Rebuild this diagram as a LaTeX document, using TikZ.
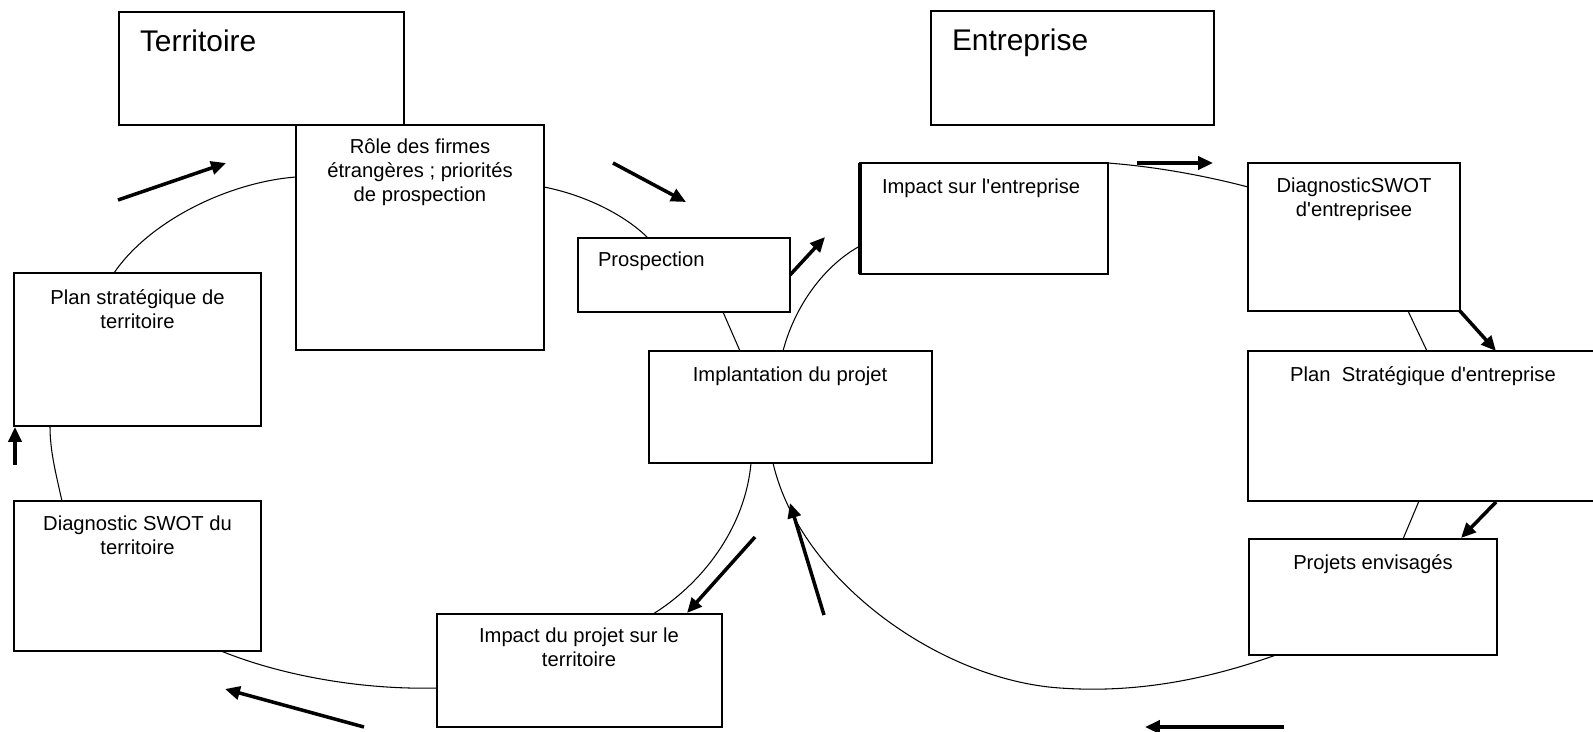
\documentclass[tikz,border=0pt]{standalone}
\usepackage{fontspec}
\setmainfont{Liberation Sans}
\usetikzlibrary{calc,arrows.meta}
\begin{document}
\begin{tikzpicture}[x=0.02cm,y=-0.02cm,
 box/.style={draw,line width=1.1pt,rectangle,inner sep=0pt,outer sep=0pt,anchor=north west},
 txt/.style={inner sep=0pt,outer sep=0pt,font=\fontsize{11.5}{13.6}\selectfont,align=center,anchor=north},
 ctxt/.style={inner sep=0pt,outer sep=0pt,font=\fontsize{11.5}{13.6}\selectfont,anchor=base},
 ltxt/.style={inner sep=0pt,outer sep=0pt,font=\fontsize{11.5}{13.6}\selectfont,anchor=base west},
 ttl/.style={inner sep=0pt,outer sep=0pt,font=\fontsize{17}{20}\selectfont,anchor=base west},
 link/.style={line width=0.6pt},
 flow/.style={line width=2pt,-{Triangle[length=8.5pt,width=7.5pt]}}]
\useasboundingbox (0,0) rectangle (1593,731);

% boxes
\node[box,minimum width=5.70cm,minimum height=2.26cm] (b1) at (119,12) {};
\node[box,minimum width=5.66cm,minimum height=2.28cm] (b2) at (931,11) {};
\node[box,minimum width=4.96cm,minimum height=4.50cm] (b3) at (296,125) {};
\node[box,minimum width=4.94cm,minimum height=3.06cm] (b4) at (14,273) {};
\node[box,minimum width=4.94cm,minimum height=3.00cm] (b5) at (14,501) {};
\node[box,minimum width=5.70cm,minimum height=2.26cm] (b6) at (437,614) {};
\node[box,minimum width=4.24cm,minimum height=1.48cm] (b7) at (578,238) {};
\node[box,minimum width=5.66cm,minimum height=2.24cm] (b8) at (649,351) {};
\node[box,minimum width=4.96cm,minimum height=2.22cm] (b9) at (860,163) {};
\node[box,minimum width=4.24cm,minimum height=2.96cm] (b10) at (1248,163) {};
\node[box,minimum width=7.00cm,minimum height=3.00cm] (b11) at (1248,351) {};
\node[box,minimum width=4.96cm,minimum height=2.32cm] (b12) at (1249,539) {};
\draw[line width=2pt] (b9.north west) -- (b9.south west);

% texts
\node[ttl] (t1) at (140,51) {Territoire};
\node[ttl] (t2) at (952,50) {Entreprise};
\node[txt] (t3) at (420,137) {\strut R\^ole des firmes\\étrangères ; priorités\\de prospection};
\node[txt] (t4) at (137.5,288) {\strut Plan stratégique de\\territoire};
\node[txt] (t5) at (137.5,514) {\strut Diagnostic SWOT du\\territoire};
\node[txt] (t6) at (579,626) {\strut Impact du projet sur le\\territoire};
\node[ltxt] (t7) at (598,266) {Prospection};
\node[ctxt] (t8) at (790,381) {Implantation du projet};
\node[ltxt] (t9) at (882,193) {Impact sur l\textquotesingle entreprise};
\node[txt] (t10) at (1354,176) {\strut DiagnosticSWOT\\d\textquotesingle entreprisee};
\node[ctxt] (t11) at (1423,381) {Plan\ \ Stratégique d\textquotesingle entreprise};
\node[ctxt] (t12) at (1373,569) {Projets envisagés};

% thin links forming the two cycles
\draw[link] ($(b4.north west)+(100,0)$) .. controls (150,220) and (230,182) .. ($(b3.north west)+(0,52)$);
\draw[link] ($(b3.north east)+(0,62)$) .. controls (585,195) and (625,215) .. ($(b7.north west)+(70,0)$);
\draw[link] ($(b7.south west)+(145,0)$) -- ($(b8.north west)+(91,0)$);
\draw[link] ($(b9.north west)+(0,83)$) .. controls (825,265) and (795,305) .. ($(b8.north west)+(134,0)$);
\draw[link] (b9.north east) .. controls (1160,167) and (1210,177) .. ($(b10.north west)+(0,24)$);
\draw[link] ($(b10.south west)+(160,0)$) -- ($(b11.north west)+(179,0)$);
\draw[link] ($(b11.south west)+(171,0)$) -- ($(b12.north west)+(154,0)$);
\draw[link] ($(b12.south west)+(27,0)$) .. controls (1200,682) and (1130,693) .. (1060,688)
  .. controls (940,680) and (800,580) .. ($(b8.south west)+(124,0)$);
\draw[link] ($(b8.south west)+(102,0)$) .. controls (745,530) and (700,585) .. ($(b6.north west)+(216,0)$);
\draw[link] ($(b6.north west)+(0,74)$) .. controls (360,690) and (280,675) .. ($(b5.south west)+(207,0)$);
\draw[link] ($(b5.north west)+(48,0)$) .. controls (55,470) and (50,450) .. ($(b4.south west)+(36,0)$);

% free flow arrows
\coordinate (a1s) at (118,200); \coordinate (a1e) at (226,163);
\coordinate (a2s) at (613,163); \coordinate (a2e) at (686,202);
\coordinate (a3s) at (790,275); \coordinate (a3e) at (825,237);
\coordinate (a4s) at (1137,163); \coordinate (a4e) at (1213,163);
\coordinate (a5s) at (1460,311); \coordinate (a5e) at (1496,351);
\coordinate (a6s) at (1496,502); \coordinate (a6e) at (1461,538);
\coordinate (a7s) at (1284,727); \coordinate (a7e) at (1145,727);
\coordinate (a8s) at (824,615); \coordinate (a8e) at (790,503);
\coordinate (a9s) at (755,537); \coordinate (a9e) at (687,613);
\coordinate (a10s) at (364,727); \coordinate (a10e) at (225,689);
\coordinate (a11s) at (15,465); \coordinate (a11e) at (15,427);
\foreach \i in {1,...,11} \draw[flow] (a\i s) -- (a\i e);
\end{tikzpicture}
\end{document}
